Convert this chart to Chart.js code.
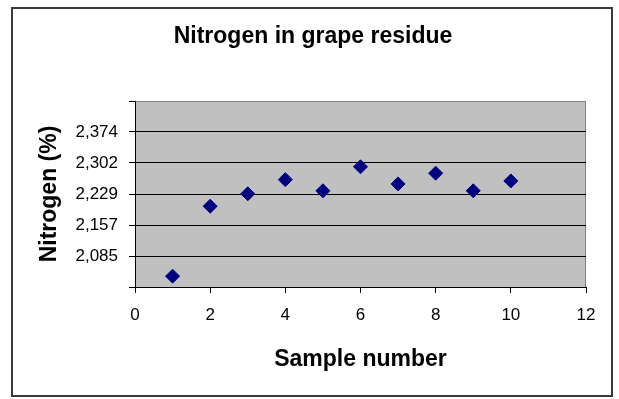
<!DOCTYPE html>
<html>
<head>
<meta charset="utf-8">
<title>Nitrogen in grape residue</title>
<script src="https://cdn.jsdelivr.net/npm/chart.js@4"></script>
<style>
    html, body { margin: 0; padding: 0; background: #fff; }
    canvas { display: block; }
</style>
</head>
<body>
<canvas id="nitrogenChart" width="619" height="399"></canvas>
<script>
const sampleNumbers = [1, 2, 3, 4, 5, 6, 7, 8, 9, 10];
const nitrogen = [2.038, 2.201, 2.230, 2.263, 2.237, 2.293, 2.253, 2.278, 2.237, 2.260];

const yTicks = [2.085, 2.157, 2.229, 2.302, 2.374];
const yMin = 2.01275;
const yMax = 2.44625;
const xTicks = [0, 2, 4, 6, 8, 10, 12];

const FONT = "'Liberation Sans', Arial, sans-serif";

// gray plot area plus the frame around the whole chart
const chartFrame = {
    id: 'chartFrame',
    beforeDraw(chart) {
        const { ctx, chartArea: a } = chart;
        ctx.save();
        ctx.fillStyle = '#c0c0c0';
        ctx.fillRect(a.left, a.top, a.right - a.left, a.bottom - a.top);
        ctx.strokeStyle = '#808080';
        ctx.lineWidth = 1;
        ctx.beginPath();
        ctx.moveTo(a.left, a.top + 0.5);
        ctx.lineTo(a.right - 0.5, a.top + 0.5);
        ctx.lineTo(a.right - 0.5, a.bottom);
        ctx.stroke();
        ctx.strokeStyle = '#3a3a3a';
        ctx.lineWidth = 2;
        ctx.strokeRect(12, 8, 600, 388);
        ctx.restore();
    }
};

const ctx = document.getElementById('nitrogenChart').getContext('2d');
new Chart(ctx, {
    type: 'scatter',
    data: {
        datasets: [{
            data: sampleNumbers.map((x, i) => ({ x: x, y: nitrogen[i] })),
            pointStyle: 'rectRot',
            pointRadius: 7,
            pointHoverRadius: 7,
            backgroundColor: '#000080',
            borderColor: '#000080',
            borderWidth: 1
        }]
    },
    options: {
        responsive: false,
        animation: false,
        layout: { padding: { left: 40, right: 33, top: 0, bottom: 0 } },
        plugins: {
            legend: { display: false },
            tooltip: { enabled: false },
            title: {
                display: true,
                text: 'Nitrogen in grape residue',
                color: '#000',
                font: { family: FONT, size: 23, weight: 'bold', lineHeight: 1.2 },
                padding: { top: 23, bottom: 50.4 }
            }
        },
        scales: {
            x: {
                type: 'linear',
                min: 0,
                max: 12,
                afterBuildTicks: scale => {
                    scale.ticks = xTicks.map(v => ({ value: v }));
                },
                afterFit: scale => { scale.height = 112; },
                border: { color: '#000', width: 1 },
                grid: { drawOnChartArea: false, tickLength: 6, tickColor: '#000' },
                ticks: {
                    color: '#000',
                    padding: 12,
                    font: { family: FONT, size: 17 }
                },
                title: {
                    display: true,
                    text: 'Sample number',
                    color: '#000',
                    font: { family: FONT, size: 23, weight: 'bold', lineHeight: 1.2 },
                    padding: { top: 0, bottom: 26 }
                }
            },
            y: {
                min: yMin,
                max: yMax,
                afterBuildTicks: scale => {
                    scale.ticks = [yMin, ...yTicks, yMax].map(v => ({ value: v }));
                },
                afterFit: scale => { scale.width = 95; },
                border: { color: '#000', width: 1 },
                grid: {
                    color: c => (c.tick && c.tick.value === yMax) ? '#808080' : '#000',
                    tickLength: 6,
                    tickColor: '#000'
                },
                ticks: {
                    color: '#000',
                    padding: 11,
                    font: { family: FONT, size: 17 },
                    callback: v => yTicks.includes(v) ? v.toFixed(3).replace('.', ',') : ''
                },
                title: {
                    display: true,
                    text: 'Nitrogen (%)',
                    color: '#000',
                    font: { family: FONT, size: 23, weight: 'bold', lineHeight: 1.2 },
                    padding: { top: -4, bottom: 0 }
                }
            }
        }
    },
    plugins: [chartFrame]
});
</script>
</body>
</html>
